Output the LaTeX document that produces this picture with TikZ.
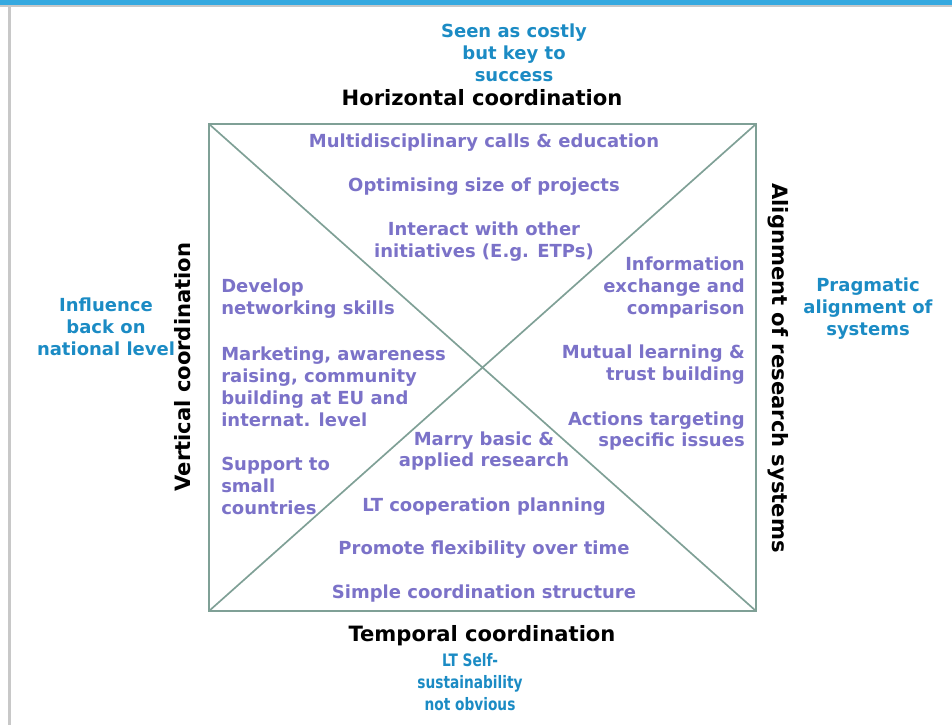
\documentclass[tikz,border=0pt]{standalone}
\usepackage{fontspec}
\setmainfont{DejaVu Sans}
\newfontfamily\narrowfont{DejaVu Sans}[FakeStretch=0.8]
\usepackage{xcolor}
\usetikzlibrary{positioning}
\definecolor{itempurple}{HTML}{7B72C8}
\definecolor{noteblue}{HTML}{1B8BC4}
\definecolor{boxgreen}{HTML}{7FA096}
\definecolor{barblue}{HTML}{35A9E0}
\definecolor{framegray}{HTML}{C8C8C8}
\tikzset{
  item/.style={text=itempurple,font=\bfseries\fontsize{12.8}{15.6}\selectfont,align=center,inner sep=0pt},
  itemleft/.style={item,align=left,anchor=west},
  itemright/.style={item,align=right,anchor=east},
  note/.style={text=noteblue,font=\bfseries\fontsize{12.8}{15.6}\selectfont,align=center,inner sep=0pt},
  axislabel/.style={font=\bfseries\fontsize{15}{18}\selectfont,inner sep=0pt}
}

\begin{document}
\begin{tikzpicture}[x=0.025cm,y=-0.025cm]
  \useasboundingbox (0,0) rectangle (952,725);
  % page frame
  \fill[barblue] (0,0) rectangle (952,5);
  \fill[framegray] (0,5) rectangle (952,7);
  \fill[framegray] (8,7) rectangle (11,725);
  % the square and its diagonals
  \coordinate (NW) at (209,124); \coordinate (NE) at (756,124);
  \coordinate (SW) at (209,611); \coordinate (SE) at (756,611);
  \draw[boxgreen,line width=1.2pt] (NW) rectangle (SE);
  \draw[boxgreen,line width=1.2pt] (NW)--(SE);
  \draw[boxgreen,line width=1.2pt] (NE)--(SW);
  % axis labels
  \node[axislabel] (horiz) at (482,98) {Horizontal coordination};
  \node[axislabel] (temporal) at (482,636) {Temporal coordination};
  \node[axislabel,rotate=90] (vert) at (183,367) {Vertical coordination};
  \node[axislabel,rotate=-90] (align) at (778,368) {Alignment of research systems};
  % blue notes
  \node[note] (costly) at (514,53) {Seen as costly\\but key to\\success};
  \node[note,font=\narrowfont\bfseries\fontsize{12.2}{15.6}\selectfont] (selfsust) at (470,682) {LT Self-\\sustainability\\not obvious};
  \node[note] (influence) at (106,326.5) {Influence\\back on\\national level};
  \node[note] (pragmatic) at (868,308.5) {Pragmatic\\alignment of\\systems};
  % top triangle
  \node[item] (multi) at (484,143) {Multidisciplinary calls \& education};
  \node[item] (optim) at (484,187) {Optimising size of projects};
  \node[item] (interact) at (484,242) {Interact with other\\initiatives (E.g. ETPs)};
  % right triangle
  \node[itemright] (info) at (745,287.5) {Information\\exchange and\\comparison};
  \node[itemright] (mutual) at (745,365) {Mutual learning \&\\trust building};
  \node[itemright] (actions) at (745,431) {Actions targeting\\specific issues};
  % left triangle
  \node[itemleft] (develop) at (221,298.5) {Develop\\networking skills};
  \node[itemleft] (marketing) at (221,387) {Marketing, awareness\\raising, community\\building at EU and\\internat. level};
  \node[itemleft] (support) at (221,486) {Support to\\small\\countries};
  % bottom triangle
  \node[item] (marry) at (484,451) {Marry basic \&\\applied research};
  \node[item] (ltcoop) at (484,507) {LT cooperation planning};
  \node[item] (flex) at (484,550) {Promote flexibility over time};
  \node[item] (simple) at (484,594) {Simple coordination structure};
\end{tikzpicture}
\end{document}
